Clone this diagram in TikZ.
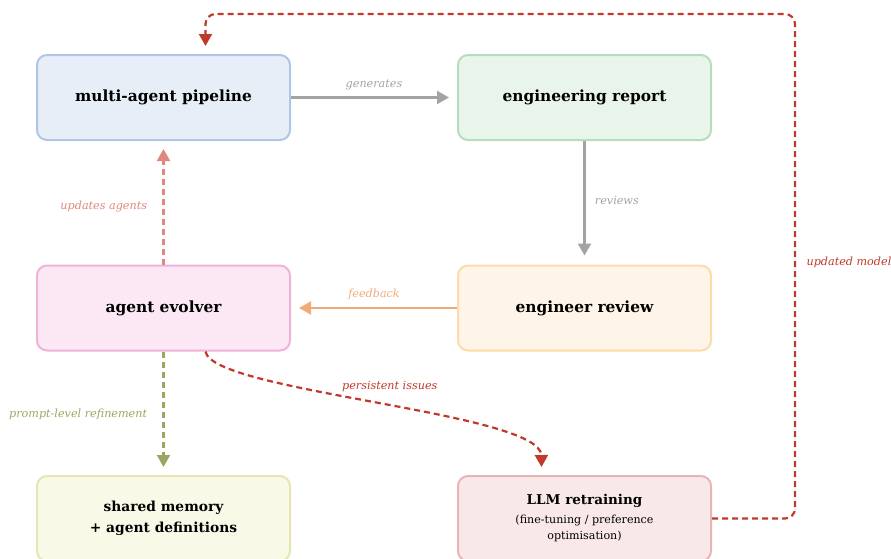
\documentclass[tikz,border=0pt]{standalone}
\usepackage{fontspec}
\setmainfont{DejaVu Serif}
\definecolor{PipeFill}{HTML}{E8EEF8}
\definecolor{PipeLine}{HTML}{AFC6E6}
\definecolor{ReportFill}{HTML}{E9F4EA}
\definecolor{ReportLine}{HTML}{B6DDB9}
\definecolor{EvolFill}{HTML}{FBE8F4}
\definecolor{EvolLine}{HTML}{F1B2DA}
\definecolor{ReviewFill}{HTML}{FFF4E8}
\definecolor{ReviewLine}{HTML}{FDDCAB}
\definecolor{MemFill}{HTML}{F9F9E8}
\definecolor{MemLine}{HTML}{E6E6B3}
\definecolor{RetrFill}{HTML}{F9E8E8}
\definecolor{RetrLine}{HTML}{E8B4B4}
\definecolor{ArrGray}{HTML}{A3A3A3}
\definecolor{ArrOrange}{HTML}{F0AC78}
\definecolor{ArrPink}{HTML}{E0877E}
\definecolor{ArrOlive}{HTML}{9AA762}
\definecolor{ArrRed}{HTML}{C0392B}
\newcommand{\retrsub}{\fontsize{11.1}{16}\selectfont\mdseries}
\usetikzlibrary{arrows.meta,positioning,calc}

\begin{document}
\begin{tikzpicture}[x=1pt, y=-1pt,
      box/.style={rectangle, draw, line width=2pt, rounded corners=10pt, minimum width=253pt, minimum height=85pt, align=center, font=\fontsize{15.4}{19}\selectfont\bfseries},
      pipe/.style={box, fill=PipeFill, draw=PipeLine},
      report/.style={box, fill=ReportFill, draw=ReportLine},
      evol/.style={box, fill=EvolFill, draw=EvolLine},
      review/.style={box, fill=ReviewFill, draw=ReviewLine},
      mem/.style={box, fill=MemFill, draw=MemLine, font=\fontsize{13.8}{21}\selectfont\bfseries},
      retr/.style={box, fill=RetrFill, draw=RetrLine, font=\fontsize{13.5}{16}\selectfont\bfseries},
      flow/.style={line width=2.2pt, -{Triangle[length=12pt,width=13pt]}},
      dflow/.style={flow, dash pattern=on 6pt off 4pt},
      lbl/.style={font=\fontsize{11.2}{13}\selectfont\itshape}
    ]
      \useasboundingbox (0,0) rectangle (891,558);
      \clip (0,0) rectangle (891,558);
      \node[pipe] (pipeline) at (163.5,97.5) {multi-agent pipeline};
      \node[report] (report) at (584.5,97.5) {engineering report};
      \node[evol] (evolver) at (163.5,308) {agent evolver};
      \node[review] (review) at (584.5,308) {engineer review};
      \node[mem] (memory) at (163.5,518.5) {shared memory\\+ agent definitions};
      \node[retr] (retrain) at (584.5,518.5) {LLM retraining\\[3pt]\retrsub (fine-tuning / preference\\\retrsub optimisation)};

      \draw[flow, ArrGray, shorten >=8pt] (pipeline.east) -- node[lbl, above=3pt] {generates} (report.west);
      \draw[flow, ArrGray, shorten >=9pt] (report.south) -- node[lbl, right=6pt, yshift=2pt] {reviews} (review.north);
      \draw[flow, ArrOrange, shorten >=8pt] (review.west) -- node[lbl, above=4pt] {feedback} (evolver.east);
      \draw[dflow, ArrPink, shorten >=8pt] (evolver.north) -- node[lbl, left=12pt, yshift=-4pt] {updates agents} (pipeline.south);
      \draw[dflow, ArrOlive, shorten >=8pt] (evolver.south) -- node[lbl, left=12pt, yshift=-1pt] {prompt-level refinement} (memory.north);

      \coordinate (issueEnd) at ($(retrain.north)+(-43,-8)$);
      \draw[dflow, ArrRed] ($(evolver.south)+(42,0)$) .. controls (212,392) and (541,412) .. (issueEnd)
        node[lbl, pos=0.5, above=8pt, xshift=14pt] {persistent issues};

      \coordinate (loopCorner) at (795,14);
      \coordinate (modelEnd) at ($(pipeline.north)+(42,-8)$);
      \draw[dflow, ArrRed, rounded corners=10pt] (retrain.east) -| (loopCorner) -| (modelEnd);
      \node[lbl, ArrRed, anchor=west] (modelLbl) at (803,262) {updated model};
    \end{tikzpicture}
\end{document}
